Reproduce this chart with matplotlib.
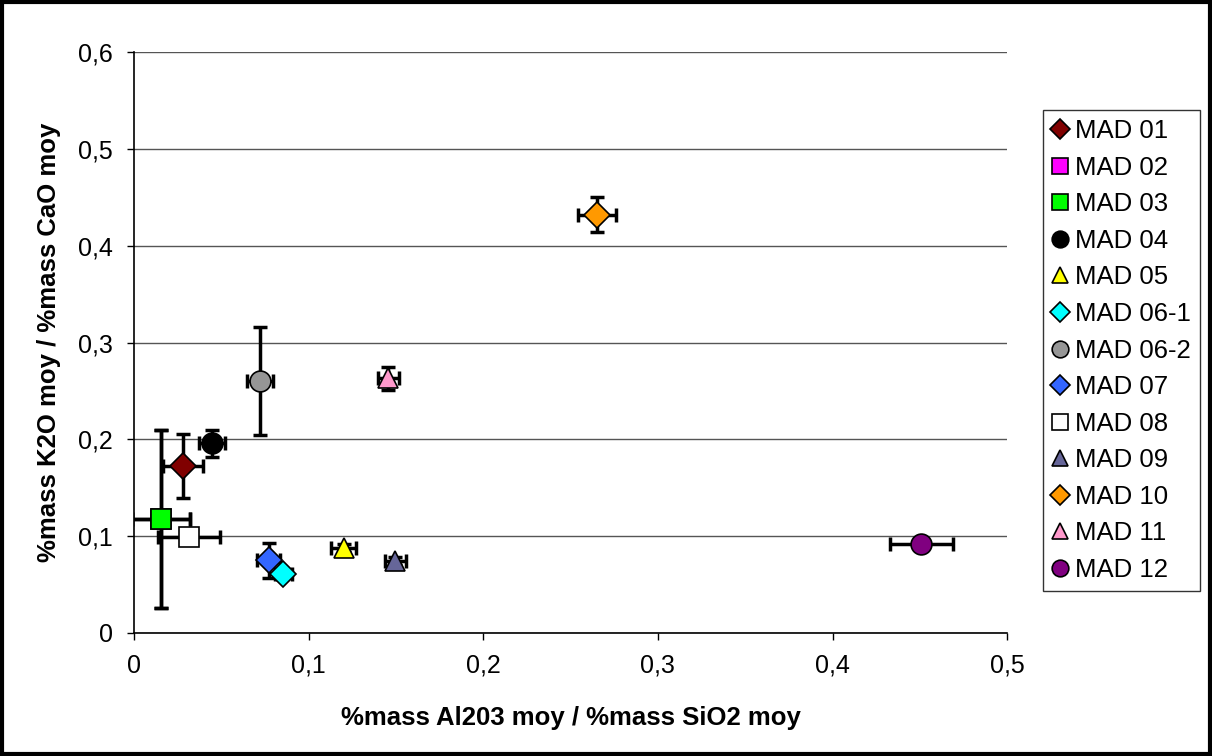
import matplotlib.pyplot as plt
from matplotlib.ticker import FuncFormatter

plt.rcParams['font.family'] = ['Liberation Sans', 'DejaVu Sans']

# sample names and styles
names = ["MAD 01", "MAD 02", "MAD 03", "MAD 04", "MAD 05", "MAD 06-1", "MAD 06-2",
         "MAD 07", "MAD 08", "MAD 09", "MAD 10", "MAD 11", "MAD 12"]
markers = ["D", "s", "s", "o", "^", "D", "o", "D", "s", "^", "D", "^", "o"]
colors = ["#800000", "#FF00FF", "#00FF00", "#000000", "#FFFF00", "#00FFFF", "#969696",
          "#3366FF", "#FFFFFF", "#666699", "#FF9900", "#FF99CC", "#800080"]

# Al2O3/SiO2 ratio and K2O/CaO ratio, with errors
x_vals = [0.028, 0.0155, 0.0155, 0.0447, 0.120, 0.0855, 0.072, 0.077, 0.0315, 0.1495, 0.265, 0.1455, 0.4507]
y_vals = [0.172, 0.118, 0.118, 0.196, 0.088, 0.061, 0.260, 0.075, 0.099, 0.074, 0.432, 0.263, 0.092]
x_err = [0.0115, 0.0165, 0.0165, 0.0075, 0.007, 0.005, 0.0075, 0.0066, 0.018, 0.006, 0.011, 0.006, 0.018]
y_err = [0.033, 0.092, 0.092, 0.014, 0.004, 0.003, 0.056, 0.018, 0.003, 0.004, 0.018, 0.012, 0.003]

sizes = {"D": 13, "s": 15, "o": 15, "^": 15}

fig = plt.figure(figsize=(12.12, 7.56), dpi=100)
ax = fig.add_axes([0.1106, 0.1627, 0.7204, 0.7685])

for i, name in enumerate(names):
    ax.errorbar(x_vals[i], y_vals[i], xerr=x_err[i], yerr=y_err[i], fmt="none",
                ecolor="black", elinewidth=2.5, capsize=5, capthick=2.5, zorder=3)
for i, name in enumerate(names):
    ax.plot(x_vals[i], y_vals[i], linestyle="none", marker=markers[i],
            markersize=sizes[markers[i]], markerfacecolor=colors[i],
            markeredgecolor="black", markeredgewidth=1.2, label=name, zorder=4)

ax.set_xlim(0, 0.5)
ax.set_ylim(0, 0.6)
ax.set_xticks([0, 0.1, 0.2, 0.3, 0.4, 0.5])
ax.set_yticks([0, 0.1, 0.2, 0.3, 0.4, 0.5, 0.6])
fmt = FuncFormatter(lambda v, p: ("%g" % round(v, 2)).replace(".", ","))
ax.xaxis.set_major_formatter(fmt)
ax.yaxis.set_major_formatter(fmt)
ax.tick_params(labelsize=18, length=5, width=1, direction="out")
ax.tick_params(axis="x", pad=10)
ax.tick_params(axis="y", pad=10)
ax.yaxis.grid(True, color="#555555", linewidth=1)
ax.set_axisbelow(True)
for s in ["top", "right"]:
    ax.spines[s].set_visible(False)
for s in ["left", "bottom"]:
    ax.spines[s].set_linewidth(1.2)

ax.set_xlabel("%mass Al203 moy / %mass SiO2 moy", fontsize=18.5, fontweight="bold")
ax.set_ylabel("%mass K2O moy / %mass CaO moy", fontsize=18.5, fontweight="bold")
ax.xaxis.set_label_coords(0.5, -0.125)
ax.yaxis.set_label_coords(-0.084, 0.5)

handles, labels = ax.get_legend_handles_labels()
leg = fig.legend(handles, labels, loc="upper left", bbox_to_anchor=(1043 / 1212, 1 - 110 / 756),
                 fontsize=18.5, frameon=True, fancybox=False, edgecolor="black",
                 handlelength=0.6, handletextpad=0.3, labelspacing=0.49,
                 borderpad=0.35, borderaxespad=0, markerscale=0.8)
leg.get_frame().set_linewidth(1)

# outer border
fig.patches.append(plt.Rectangle((0.002, 0.003), 0.996, 0.994, transform=fig.transFigure,
                                 fill=False, edgecolor="black", linewidth=3))

fig.savefig("out.png", dpi=100)
